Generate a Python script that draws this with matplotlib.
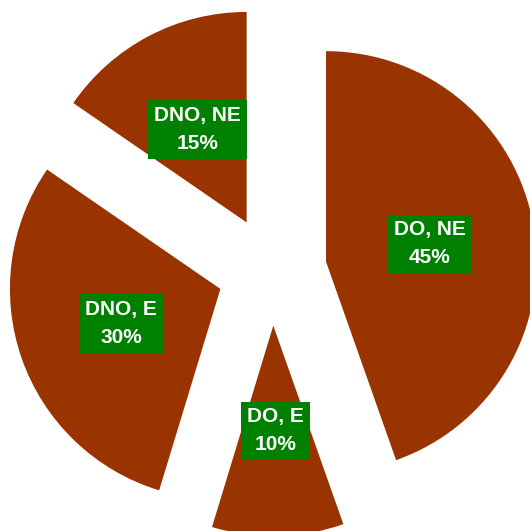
import matplotlib
matplotlib.use("Agg")
from matplotlib import pyplot as plt

# slice data, clockwise from the top (shares)
categories = ["DO, NE", "DO, E", "DNO, E", "DNO, NE"]
shares = [44.6, 10.1, 29.9, 15.4]

labels = ["{}\n{:.0f}%".format(c, s) for c, s in zip(categories, shares)]

fig = plt.figure(figsize=(5.30, 5.31), dpi=100)
ax = fig.add_axes([0, 0, 1, 1])

wedges, texts = ax.pie(shares, labels=labels, startangle=90, counterclock=False,
                       explode=[0.26] * len(shares), colors=["#993300"] * len(shares),
                       labeldistance=0.5, radius=1.0,
                       textprops=dict(color="white", fontsize=15, fontweight="bold",
                                      family=["Liberation Sans", "DejaVu Sans"],
                                      linespacing=1.6))
for t in texts:
    t.set_horizontalalignment("center")
    t.set_verticalalignment("center")
    t.set_bbox(dict(boxstyle="square,pad=0.28", facecolor="#008000", edgecolor="none"))

ax.set_aspect("equal")
ax.set_xlim(-1.2926, 1.2252)
ax.set_ylim(-1.2356, 1.2869)
ax.axis("off")

fig.savefig("out.png", dpi=100)
